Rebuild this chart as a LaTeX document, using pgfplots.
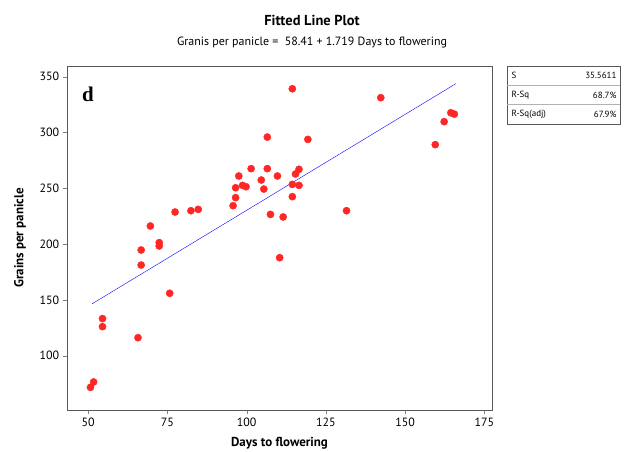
\documentclass[border=0pt]{standalone}
\usepackage{pgfplots}
\pgfplotsset{compat=1.18}
\usepackage{fontspec}
\setmainfont{PT Sans}
\newfontfamily\seriff{Liberation Serif}
\begin{document}
\begin{tikzpicture}[x=1bp,y=1bp]
\path[use as bounding box] (0,0) rectangle (625,452);
\begin{axis}[at={(67bp,42bp)},anchor=south west,scale only axis,width=425bp,height=344bp,
xmin=43.3,xmax=177.4,ymin=51.3,ymax=359.6,
xtick={50,75,...,175},ytick={100,150,...,350},
tick align=outside,xtick pos=bottom,ytick pos=left,
/pgf/number format/assume math mode=true,
ticklabel style={font=\fontsize{12}{14}\selectfont},
xlabel={\textbf{Days to flowering}},ylabel={\textbf{Grains per panicle}},
label style={font=\fontsize{13}{15}\selectfont},
xlabel style={yshift=-4bp},ylabel style={yshift=7bp},
axis line style={gray!70!black}]
\addplot[only marks,mark=*,mark size=3.6bp,red!85!white,mark options={draw=red!85!white,fill=red!85!white}] coordinates {
(50.7,71.6)(51.7,76.4)(54.5,133.2)(54.5,126)(65.7,116.1)(66.7,181.2)(66.7,194.7)
(69.6,216.2)(72.4,201.3)(72.4,198.3)(75.7,155.9)(77.4,228.7)(82.4,229.9)(84.7,231.1)
(95.7,234.4)(96.5,241.6)(96.5,250.5)(97.5,261)(98.7,252.6)(99.8,251.4)(101.4,267.6)
(104.6,257.4)(105.4,249.3)(106.5,295.9)(106.5,267.6)(107.5,226.6)(109.7,261)(110.4,187.8)
(111.5,224.3)(114.4,339.2)(114.4,242.5)(114.4,253.5)(115.4,262.8)(116.5,267)(116.5,252.6)
(119.3,293.8)(131.5,229.9)(142.3,331.2)(159.5,289.1)(162.3,309.7)(164.4,317.7)(165.5,316.5)};
\addplot[blue,thin] coordinates {(51.2,146.42)(166,343.76)};
\node[font=\seriff\bfseries\fontsize{21}{23}\selectfont,anchor=north west] at (axis cs:47,344) {d};
\end{axis}
\node[font=\bfseries\fontsize{14.5}{16}\selectfont] at (312,432) {Fitted Line Plot};
\node[font=\fontsize{12}{14}\selectfont] at (312,409) {Granis per panicle =\ \ 58.41 + 1.719 Days to flowering};
\draw[gray!70!black] (507,328) rectangle (620,386);
\draw[gray!60] (507,366.7) -- (620,366.7) (507,347.3) -- (620,347.3);
\foreach \y/\l/\v in {376.3/S/35.5611,357/R-Sq/68.7\%,337.7/R-Sq(adj)/67.9\%}{
 \node[font=\fontsize{9}{10}\selectfont,anchor=west] at (508,\y) {\l};
 \node[font=\fontsize{9}{10}\selectfont,anchor=east] at (620,\y) {\v};}
\end{tikzpicture}
\end{document}
